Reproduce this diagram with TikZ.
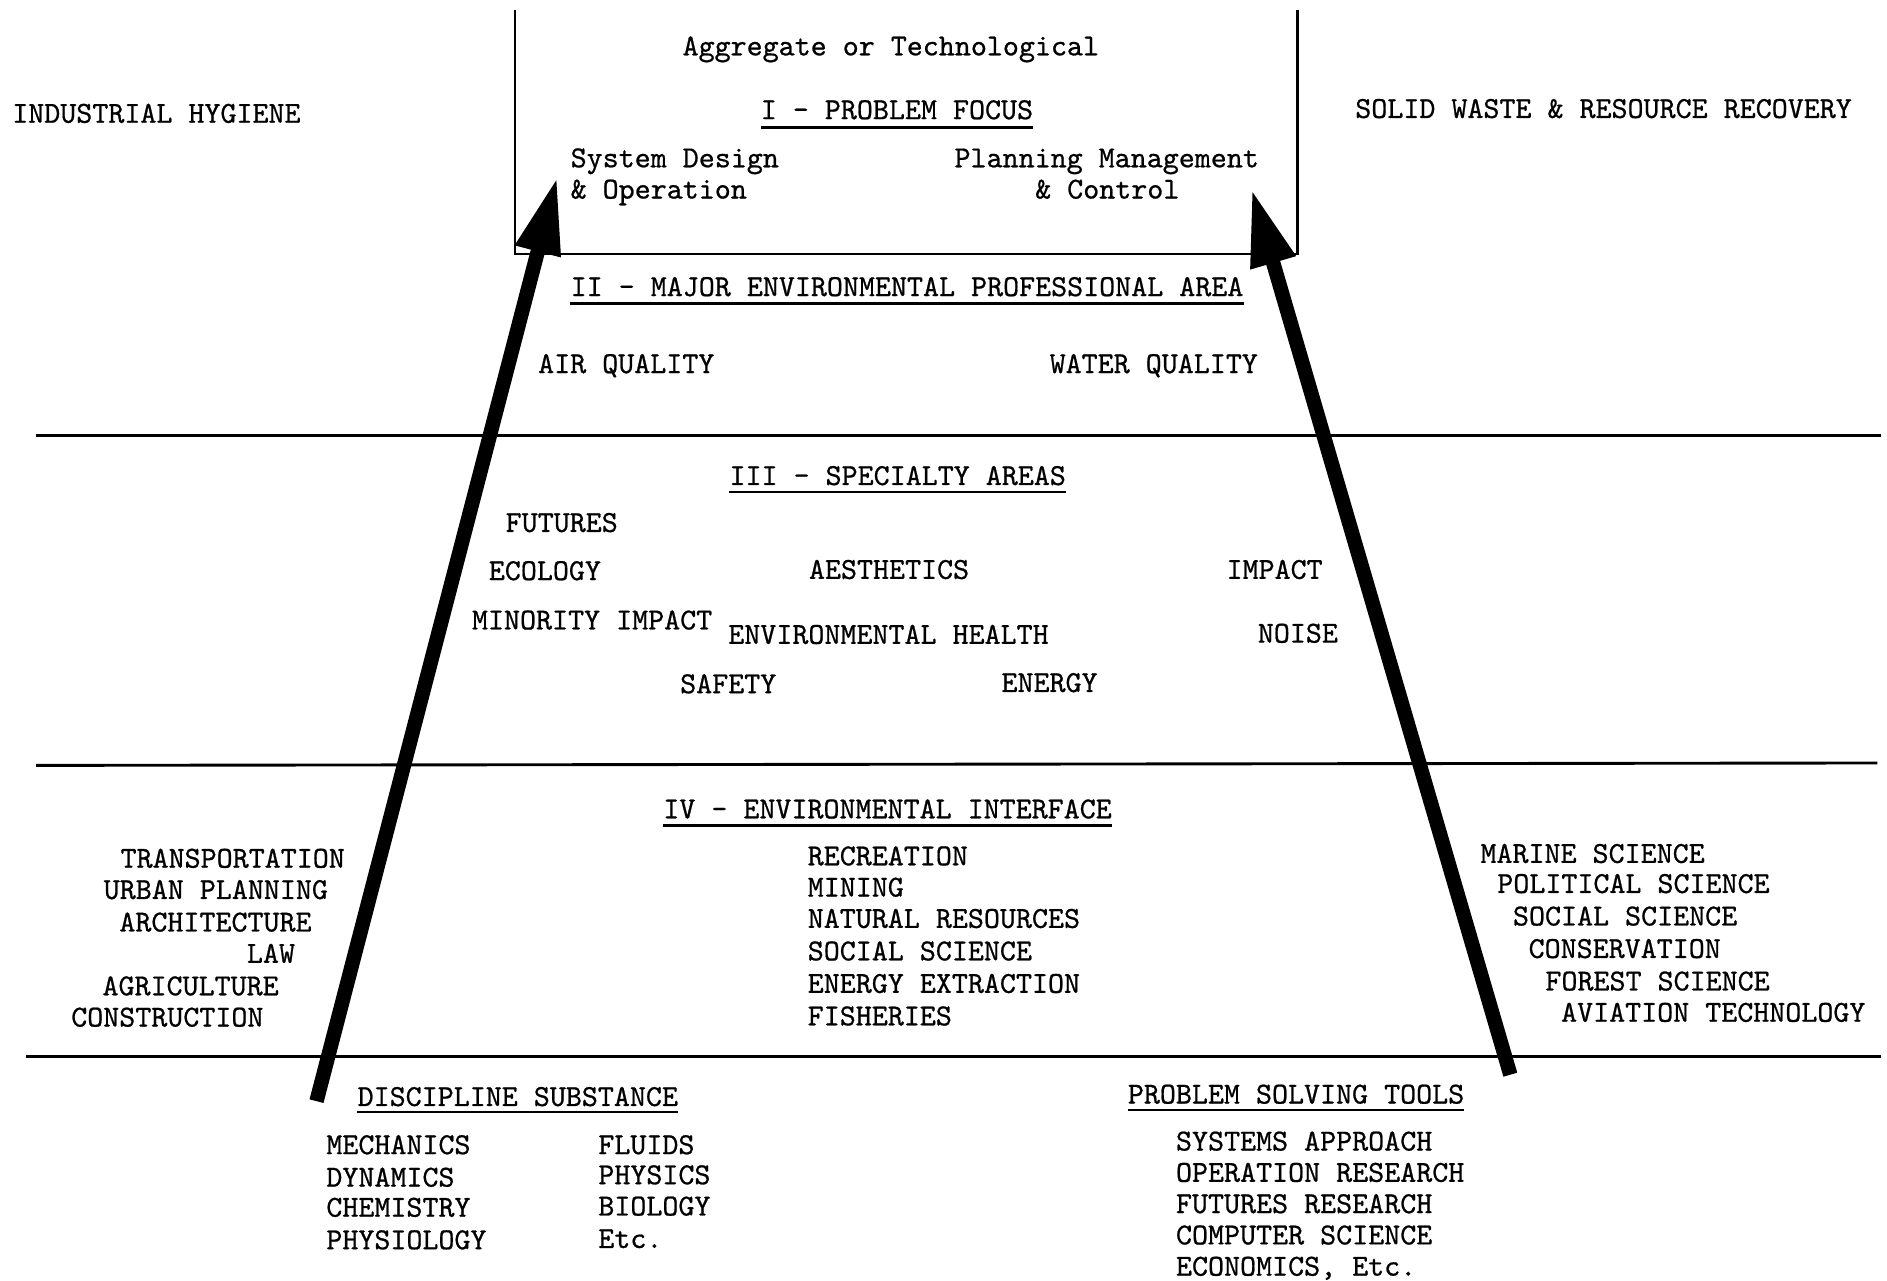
\documentclass[tikz,border=0pt]{standalone}
\usepackage{fontspec}
\usetikzlibrary{arrows.meta}
\newfontfamily\twfam{lmmono10-regular.otf}[FakeBold=0.7]
\newcommand\twfont{\fontsize{25.35pt}{30pt}\selectfont\twfam}
\begin{document}
\begin{tikzpicture}[x=1pt,y=-1pt,
  lbl/.style={anchor=base west,inner sep=0pt,font=\twfont},
  rule/.style={line width=2.4pt},
  boxline/.style={line width=2.2pt},
  uline/.style={line width=2pt},
  bigarrow/.style={line width=12pt,-{Triangle[length=64pt,width=36pt]}}]
\useasboundingbox (0,0) rectangle (1568,1064);

% problem-focus box (open at the top)
\coordinate (bxtl) at (428,8);
\coordinate (bxbl) at (428,211);
\coordinate (bxbr) at (1078,211);
\coordinate (bxtr) at (1078,8);
\draw[boxline] (bxtl) -- (bxbl) -- (bxbr) -- (bxtr);

% level separators
\coordinate (r1a) at (30,362);   \coordinate (r1b) at (1563,362);
\coordinate (r2a) at (30,636);   \coordinate (r2b) at (1560,634);
\coordinate (r3a) at (22,878);   \coordinate (r3b) at (1563,878);
\draw[rule] (r1a) -- (r1b);
\draw[rule] (r2a) -- (r2b);
\draw[rule] (r3a) -- (r3b);

% level I
\node[lbl] (agg) at (567,46) {Aggregate or Technological};
\node[lbl] (ih) at (10,102) {INDUSTRIAL HYGIENE};
\node[lbl] (sw) at (1126,98) {SOLID WASTE \& RESOURCE RECOVERY};
\node[lbl] (h1) at (632,99) {I - PROBLEM FOCUS};
\node[lbl] (sd1) at (474,139) {System Design};
\node[lbl] (sd2) at (474,165) {\& Operation};
\node[lbl] (pm1) at (793,139) {Planning Management};
\node[lbl] (pm2) at (860,165) {\& Control};

% level II
\node[lbl] (h2) at (474,246) {II - MAJOR ENVIRONMENTAL PROFESSIONAL AREA};
\node[lbl] (air) at (447,310) {AIR QUALITY};
\node[lbl] (water) at (872,310) {WATER QUALITY};

% level III
\node[lbl] (h3) at (606,403) {III - SPECIALTY AREAS};
\node[lbl] (fut) at (420,442) {FUTURES};
\node[lbl] (eco) at (406,482) {ECOLOGY};
\node[lbl] (aes) at (672,481) {AESTHETICS};
\node[lbl] (imp) at (1019,481) {IMPACT};
\node[lbl] (min) at (392,523) {MINORITY IMPACT};
\node[lbl] (envh) at (605,535) {ENVIRONMENTAL HEALTH};
\node[lbl] (noise) at (1045,534) {NOISE};
\node[lbl] (saf) at (565,576) {SAFETY};
\node[lbl] (ene) at (832,575) {ENERGY};

% level IV
\node[lbl] (h4) at (551,680) {IV - ENVIRONMENTAL INTERFACE};
\node[lbl] (l1) at (100,721) {TRANSPORTATION};
\node[lbl] (l2) at (86,747) {URBAN PLANNING};
\node[lbl] (l3) at (99,774) {ARCHITECTURE};
\node[lbl] (l4) at (205,800) {LAW};
\node[lbl] (l5) at (85,827) {AGRICULTURE};
\node[lbl] (l6) at (59,853) {CONSTRUCTION};
\node[lbl] (m1) at (671,719) {RECREATION};
\node[lbl] (m2) at (671,745) {MINING};
\node[lbl] (m3) at (671,771) {NATURAL RESOURCES};
\node[lbl] (m4) at (671,798) {SOCIAL SCIENCE};
\node[lbl] (m5) at (671,825) {ENERGY EXTRACTION};
\node[lbl] (m6) at (671,852) {FISHERIES};
\node[lbl] (q1) at (1230,717) {MARINE SCIENCE};
\node[lbl] (q2) at (1244,742) {POLITICAL SCIENCE};
\node[lbl] (q3) at (1257,769) {SOCIAL SCIENCE};
\node[lbl] (q4) at (1270,796) {CONSERVATION};
\node[lbl] (q5) at (1284,823) {FOREST SCIENCE};
\node[lbl] (q6) at (1297,849) {AVIATION TECHNOLOGY};

% foundations
\node[lbl] (ds) at (297,919) {DISCIPLINE SUBSTANCE};
\node[lbl] (d1) at (271,959) {MECHANICS};
\node[lbl] (d2) at (271,986) {DYNAMICS};
\node[lbl] (d3) at (271,1011) {CHEMISTRY};
\node[lbl] (d4) at (271,1038) {PHYSIOLOGY};
\node[lbl] (e1) at (497,959) {FLUIDS};
\node[lbl] (e2) at (497,984) {PHYSICS};
\node[lbl] (e3) at (497,1010) {BIOLOGY};
\node[lbl] (e4) at (497,1037) {Etc.};
\node[lbl] (pt) at (937,917) {PROBLEM SOLVING TOOLS};
\node[lbl] (p1) at (977,956) {SYSTEMS APPROACH};
\node[lbl] (p2) at (977,982) {OPERATION RESEARCH};
\node[lbl] (p3) at (977,1008) {FUTURES RESEARCH};
\node[lbl] (p4) at (977,1034) {COMPUTER SCIENCE};
\node[lbl] (p5) at (977,1060) {ECONOMICS, Etc.};

% heading underlines
\draw[line width=3pt] ([yshift=-7pt]h1.base west) -- ([yshift=-7pt]h1.base east);
\draw[line width=2.6pt] ([yshift=-6pt]h2.base west) -- ([yshift=-6pt]h2.base east);
\draw[uline] ([yshift=-6pt]h3.base west) -- ([yshift=-6pt]h3.base east);
\draw[uline] ([yshift=-6pt]h4.base west) -- ([yshift=-6pt]h4.base east);
\draw[line width=1.6pt] ([yshift=-5pt]ds.base west) -- ([yshift=-5pt]ds.base east);
\draw[line width=1.6pt] ([yshift=-5pt]pt.base west) -- ([yshift=-5pt]pt.base east);

% the two rising arrows
\coordinate (la0) at (263,915);
\coordinate (la1) at (463,147);
\coordinate (ra0) at (1255,893);
\coordinate (ra1) at (1040,157);
\draw[bigarrow] (la0) -- (la1);
\draw[bigarrow] (ra0) -- (ra1);
\end{tikzpicture}
\end{document}
